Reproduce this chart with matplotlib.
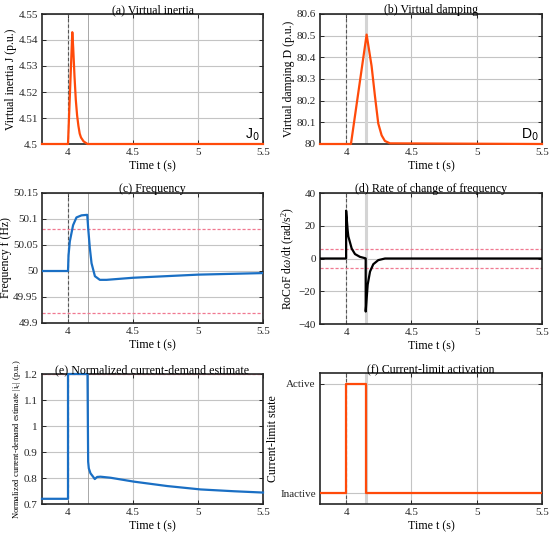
import matplotlib
matplotlib.use("Agg")
import matplotlib.pyplot as plt

plt.rcParams['font.family'] = ['Liberation Serif', 'DejaVu Serif']
plt.rcParams['mathtext.fontset'] = 'custom'
plt.rcParams['mathtext.rm'] = 'Liberation Serif'
plt.rcParams['mathtext.it'] = 'Liberation Serif:italic'

# ---------------- data ----------------
x_ticks = [4, 4.5, 5, 5.5]
x_tick_labels = ['4', '4.5', '5', '5.5']
t_fault = 4.0
t_release = 4.15

t_J = [3.8, 4.0, 4.033, 4.04, 4.05, 4.06, 4.07, 4.08, 4.09, 4.1, 4.12, 4.15, 5.5]
J = [4.5, 4.5, 4.543, 4.537, 4.526, 4.517, 4.511, 4.507, 4.504, 4.5025, 4.501, 4.5, 4.5]

t_D = [3.8, 4.037, 4.157, 4.195, 4.221, 4.246, 4.272, 4.297, 4.336, 5.5]
D = [80, 80, 80.505, 80.36, 80.22, 80.095, 80.04, 80.014, 80.003, 80]

t_f = [3.8, 4.0, 4.004, 4.014, 4.039, 4.065, 4.104, 4.148, 4.155, 4.168, 4.181,
       4.207, 4.245, 4.297, 4.5, 5.0, 5.5]
f = [50, 50, 50.03, 50.057, 50.088, 50.103, 50.107, 50.108, 50.083, 50.044, 50.015,
     49.99, 49.983, 49.983, 49.987, 49.993, 49.996]
f_limits = [50.08, 49.92]

t_r = [3.8, 4.0, 4.0, 4.012, 4.017, 4.043, 4.068, 4.106, 4.145, 4.15, 4.15,
       4.165, 4.183, 4.208, 4.246, 4.298, 5.5]
rocof = [0, 0, 29.2, 17, 13.5, 6, 2.7, 1.0, 0.2, 0, -32.4,
         -16, -8, -3.5, -1, 0, 0]
rocof_limits = [6, -6]

t_i = [3.8, 4.0, 4.0, 4.15, 4.155, 4.16, 4.173, 4.193, 4.206, 4.224, 4.25,
       4.327, 4.507, 4.764, 5.02, 5.278, 5.5]
i_c = [0.72, 0.72, 1.2, 1.2, 0.863, 0.837, 0.818, 0.805, 0.796, 0.804, 0.805,
       0.801, 0.786, 0.769, 0.756, 0.749, 0.744]
i_limit = 1.2

t_s = [3.8, 4.0, 4.0, 4.15, 4.15, 5.5]
state = [0, 0, 1, 1, 0, 0]
state_labels = ['Inactive', 'Active']

# ---------------- style ----------------
ORANGE = '#FF4A0A'
BLUE = '#1A6FC4'
LIMIT = '#F07890'
FS = 8.0

W, H = 550, 535
fig = plt.figure(figsize=(5.5, 5.35), dpi=100)

def ax_at(l, t, r, b):
    return fig.add_axes([l / W, 1 - b / H, (r - l) / W, (b - t) / H])

def style(ax, title, ylabel, thick_release, ylabel_fs=FS + 0.5):
    ax.set_xlim(3.8, 5.5)
    ax.set_xticks(x_ticks)
    ax.set_xticklabels(x_tick_labels)
    ax.grid(True, color='#c4c4c4', lw=0.8)
    ax.set_axisbelow(True)
    ax.tick_params(direction='in', length=3, width=0.7, labelsize=FS,
                   top=True, right=True, colors='#262626', pad=3)
    for s in ax.spines.values():
        s.set_linewidth(1.2)
        s.set_color('#262626')
    ax.set_title(title, fontsize=FS + 0.6, pad=0.8)
    ax.set_xlabel('Time t (s)', fontsize=FS + 0.6, labelpad=2.5)
    ax.set_ylabel(ylabel, fontsize=ylabel_fs, labelpad=0.8)
    ax.axvline(t_fault, color='#555555', lw=0.8, ls=(0, (3, 2)), zorder=1.5)
    if thick_release:
        ax.axvline(t_release, color='#d4d4d4', lw=2.2, zorder=1.4)
    else:
        ax.axvline(t_release, color='#9a9a9a', lw=0.6, zorder=1.4)

# (a)
axa = ax_at(42, 14, 263, 144)
style(axa, '(a) Virtual inertia', 'Virtual inertia J (p.u.)', False)
axa.plot(t_J, J, color=ORANGE, lw=1.6, clip_on=False, zorder=3)
axa.set_ylim(4.5, 4.55)
axa.set_yticks([4.5, 4.51, 4.52, 4.53, 4.54, 4.55])
axa.set_yticklabels(['4.5', '4.51', '4.52', '4.53', '4.54', '4.55'])
axa.text(0.985, 0.01, 'J$_0$', transform=axa.transAxes, ha='right', va='bottom',
         fontsize=10, family='Liberation Sans',
         math_fontfamily='dejavusans')

# (b)
axb = ax_at(320, 14, 542, 144)
style(axb, '(b) Virtual damping', 'Virtual damping D (p.u.)', True)
axb.plot(t_D, D, color=ORANGE, lw=1.6, clip_on=False, zorder=3)
axb.set_ylim(80, 80.6)
axb.set_yticks([80, 80.1, 80.2, 80.3, 80.4, 80.5, 80.6])
axb.set_yticklabels(['80', '80.1', '80.2', '80.3', '80.4', '80.5', '80.6'])
axb.text(0.985, 0.01, 'D$_0$', transform=axb.transAxes, ha='right', va='bottom',
         fontsize=10, family='Liberation Sans',
         math_fontfamily='dejavusans')

# (c)
axc = ax_at(42, 193, 263, 323)
style(axc, '(c) Frequency', 'Frequency f (Hz)', False)
for v in f_limits:
    axc.axhline(v, color=LIMIT, lw=0.9, ls=(0, (2.5, 1.5)), zorder=2)
axc.plot(t_f, f, color=BLUE, lw=1.6, zorder=3)
axc.set_ylim(49.9, 50.15)
axc.set_yticks([49.9, 49.95, 50, 50.05, 50.1, 50.15])
axc.set_yticklabels(['49.9', '49.95', '50', '50.05', '50.1', '50.15'])

# (d)
axd = ax_at(320, 193, 542, 324)
style(axd, '(d) Rate of change of frequency',
      r'RoCoF d$\omega$/dt (rad/s$^2$)', True)
for v in rocof_limits:
    axd.axhline(v, color=LIMIT, lw=0.9, ls=(0, (2.5, 1.5)), zorder=2)
axd.plot(t_r, rocof, color='black', lw=1.6, zorder=3)
axd.set_ylim(-40, 40)
axd.set_yticks([-40, -20, 0, 20, 40])

# (e)
axe = ax_at(42, 374, 263, 504)
style(axe, '(e) Normalized current-demand estimate',
      r'Normalized current-demand estimate |i$_c$| (p.u.)', False, ylabel_fs=6.1)
axe.axhline(i_limit, color=LIMIT, lw=0.9, ls=(0, (2.5, 1.5)), zorder=2)
axe.plot(t_i, i_c, color=BLUE, lw=1.6, zorder=3, clip_on=False)
axe.set_ylim(0.7, 1.2)
axe.set_yticks([0.7, 0.8, 0.9, 1.0, 1.1, 1.2])
axe.set_yticklabels(['0.7', '0.8', '0.9', '1', '1.1', '1.2'])

# (f)
axf = ax_at(320, 373, 542, 504)
style(axf, '(f) Current-limit activation', 'Current-limit state', True)
axf.plot(t_s, state, color=ORANGE, lw=1.6, zorder=3)
axf.set_ylim(-0.1, 1.1)
axf.set_yticks([0, 1])
axf.set_yticklabels(state_labels)

fig.savefig('out.png', dpi=100)
